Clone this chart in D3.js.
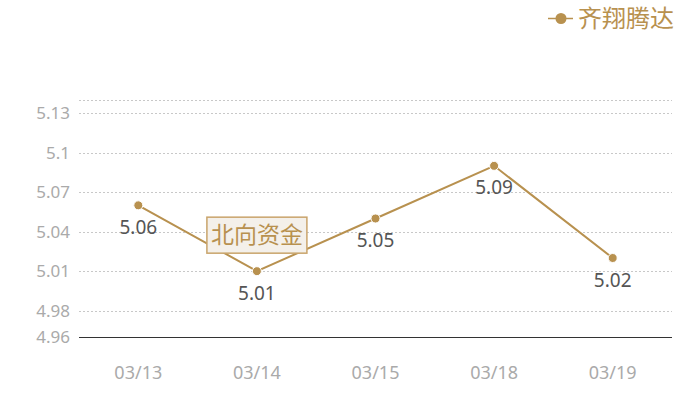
<!DOCTYPE html>
<html>
<head>
<meta charset="utf-8">
<script src="https://cdn.jsdelivr.net/npm/d3@7"></script>
<style>
  body { margin: 0; background: #fff; }
  text { font-family: "Noto Sans", "Noto Sans CJK SC", sans-serif; }
</style>
</head>
<body>
<script>
const dates = ['03/13', '03/14', '03/15', '03/18', '03/19'];
const prices = [5.06, 5.01, 5.05, 5.09, 5.02];
const yTicks = [4.96, 4.98, 5.01, 5.04, 5.07, 5.1, 5.13, 5.14];
const seriesName = '齐翔腾达';
const tagText = '北向资金';
const tagIndex = 1;

const width = 700, height = 400;
const margin = { top: 100, right: 28, bottom: 63, left: 79 };
const gold = '#b8914f';

const svg = d3.select('body')
  .append('svg')
  .attr('width', width)
  .attr('height', height);

const x = d3.scaleBand()
  .domain(dates)
  .range([margin.left, width - margin.right]);

const y = d3.scaleLinear()
  .domain([4.96, 5.14])
  .range([height - margin.bottom, margin.top]);

// grid lines
svg.append('g')
  .selectAll('line')
  .data(yTicks.filter(d => d !== 4.96))
  .join('line')
  .attr('x1', margin.left)
  .attr('x2', width - margin.right)
  .attr('y1', d => Math.round(y(d)) + 0.5)
  .attr('y2', d => Math.round(y(d)) + 0.5)
  .attr('stroke', '#c8c8c8')
  .attr('stroke-dasharray', '2,2');

// y labels (top line has no label)
svg.append('g')
  .selectAll('text')
  .data(yTicks.filter(d => d !== 5.14))
  .join('text')
  .attr('x', margin.left - 9)
  .attr('y', d => y(d))
  .attr('dy', '0.35em')
  .attr('text-anchor', 'end')
  .attr('font-size', 17)
  .attr('fill', '#aaaaaa')
  .text(d => d);

// x axis
svg.append('line')
  .attr('x1', margin.left)
  .attr('x2', width - margin.right)
  .attr('y1', Math.round(y(4.96)) + 0.5)
  .attr('y2', Math.round(y(4.96)) + 0.5)
  .attr('stroke', '#333');

svg.append('g')
  .selectAll('text')
  .data(dates)
  .join('text')
  .attr('x', d => x(d) + x.bandwidth() / 2)
  .attr('y', 373)
  .attr('dy', '0.35em')
  .attr('text-anchor', 'middle')
  .attr('font-size', 18)
  .attr('fill', '#aaaaaa')
  .text(d => d);

// line
const line = d3.line()
  .x((d, i) => x(dates[i]) + x.bandwidth() / 2)
  .y(d => y(d));

svg.append('path')
  .datum(prices)
  .attr('d', line)
  .attr('fill', 'none')
  .attr('stroke', gold)
  .attr('stroke-width', 2);

svg.append('g')
  .selectAll('circle')
  .data(prices)
  .join('circle')
  .attr('cx', (d, i) => x(dates[i]) + x.bandwidth() / 2)
  .attr('cy', d => y(d))
  .attr('r', 4.5)
  .attr('fill', gold)
  .attr('stroke', '#fff')
  .attr('stroke-width', 1);

// tag box over one point
const tx = x(dates[tagIndex]) + x.bandwidth() / 2;
const ty = y(prices[tagIndex]) - 36;
const tag = svg.append('g');
tag.append('rect')
  .attr('x', tx - 50)
  .attr('y', ty - 18)
  .attr('width', 100)
  .attr('height', 36)
  .attr('fill', '#f4f0ea')
  .attr('stroke', '#c9a46b')
  .attr('stroke-width', 1.5);
tag.append('text')
  .attr('x', tx)
  .attr('y', ty)
  .attr('dy', '0.36em')
  .attr('text-anchor', 'middle')
  .attr('font-family', '"Noto Sans CJK SC", sans-serif')
  .attr('font-size', 23)
  .attr('fill', '#b8914f')
  .text(tagText);

// value labels
svg.append('g')
  .selectAll('text')
  .data(prices)
  .join('text')
  .attr('x', (d, i) => x(dates[i]) + x.bandwidth() / 2)
  .attr('y', d => y(d) + 22)
  .attr('dy', '0.35em')
  .attr('text-anchor', 'middle')
  .attr('font-size', 19)
  .attr('fill', '#555555')
  .text(d => d);

// legend
const legend = svg.append('g');
legend.append('line')
  .attr('x1', 548).attr('x2', 573)
  .attr('y1', 18.5).attr('y2', 18.5)
  .attr('stroke', gold)
  .attr('stroke-width', 1.5);
legend.append('circle')
  .attr('cx', 561).attr('cy', 18.5)
  .attr('r', 5.5)
  .attr('fill', gold);
legend.append('text')
  .attr('x', 578)
  .attr('y', 18.5)
  .attr('dy', '0.36em')
  .attr('font-family', '"Noto Sans CJK SC", sans-serif')
  .attr('font-size', 24)
  .attr('fill', gold)
  .text(seriesName);
</script>
</body>
</html>
